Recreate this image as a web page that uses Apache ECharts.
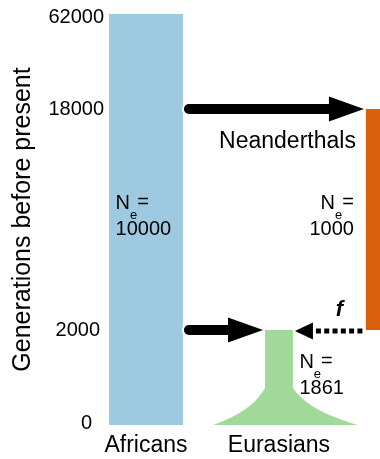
<!DOCTYPE html>
<html>
<head>
<meta charset="utf-8">
<script src="https://cdn.jsdelivr.net/npm/echarts@6/dist/echarts.min.js"></script>
<style>
  html, body { margin: 0; padding: 0; background: #fff; }
  #chart { width: 380px; height: 459px; }
</style>
</head>
<body>
<div id="chart"></div>
<script>
// ---- model: populations, effective sizes and time spans (generations before present)
const populations = ['Africans', 'Eurasians', 'Neanderthals'];
const popNe = [10000, 1861, 1000];
const popStart = [62000, 2000, 18000];
const popEnd = [0, 0, 2000];

// ---- population splits
const splitFrom = ['Africans', 'Africans'];
const splitTo = ['Neanderthals', 'Eurasians'];
const splitGen = [18000, 2000];

// ---- admixture pulse
const admixFrom = ['Neanderthals'];
const admixTo = ['Eurasians'];
const admixGen = [2000];
const admixLabel = ['f'];

// ---- axes
const genTicks = [0, 2000, 18000, 62000];
const bottomLabels = ['Africans', 'Eurasians'];
const yTitle = 'Generations before present';

// ---- layout (time axis is piecewise linear between ticks)
const tickSpan = [0, 95, 316, 411];
const laneX = { Africans: 0, Eurasians: 1, Neanderthals: 1.707 };
const laneHalf = { Africans: 0.278, Eurasians: 0.105, Neanderthals: 0.053 };
const popColor = { Africans: '#9ecae1', Eurasians: '#a1d99b', Neanderthals: '#d95f0e' };
const FONT = '"Liberation Sans", Arial, Helvetica, sans-serif';

function toAxis(g) {
  for (let i = 1; i < genTicks.length; i++) {
    if (g <= genTicks[i]) {
      const t = (g - genTicks[i - 1]) / (genTicks[i] - genTicks[i - 1]);
      return tickSpan[i - 1] + t * (tickSpan[i] - tickSpan[i - 1]);
    }
  }
  return tickSpan[tickSpan.length - 1];
}

const measureCtx = document.createElement('canvas').getContext('2d');
function textW(s, size, style) {
  measureCtx.font = (style || '') + ' ' + size + 'px ' + FONT;
  return measureCtx.measureText(s).width;
}

function txt(s, x, y, size, align, extra) {
  return {
    type: 'text', x: x, y: y,
    style: Object.assign({
      text: s, fill: '#000', fontSize: size, fontFamily: FONT,
      align: align || 'left', verticalAlign: 'middle'
    }, extra || {})
  };
}

// "N_e=" over the value, anchored at (x, y)
function neLabel(x, y, align, value) {
  const wN = textW('N', 20), wE = textW('e', 13), wEq = textW('=', 20);
  const wV = textW(String(value), 20);
  const w1 = wN + wE + wEq;
  const x1 = align === 'left' ? x : x - w1;
  const x2 = align === 'left' ? x : x - wV;
  return {
    type: 'group',
    children: [
      txt('N', x1, y - 16.5, 20),
      txt('e', x1 + wN, y - 4.5, 13),
      txt('=', x1 + wN + wE, y - 17, 20),
      txt(String(value), x2, y + 10, 20)
    ]
  };
}

const chart = echarts.init(document.getElementById('chart'), null, { renderer: 'canvas' });

const tickPos = genTicks.map(toAxis);
const tickRich = {
  t0: { fontSize: 20, fontFamily: FONT, color: '#000', padding: [0, 12, 4, 0] },
  t1: { fontSize: 20, fontFamily: FONT, color: '#000', padding: [0, 4, 0, 0] },
  t2: { fontSize: 20, fontFamily: FONT, color: '#000' },
  t3: { fontSize: 20, fontFamily: FONT, color: '#000', padding: [6, 0, 0, 0] }
};

// cubic curve helper for the flare outline
function cubic(p0, p1, p2, p3, t) {
  const u = 1 - t;
  return u * u * u * p0 + 3 * u * u * t * p1 + 3 * u * t * t * p2 + t * t * t * p3;
}

const option = {
  animation: false,
  backgroundColor: '#fff',
  grid: { left: 104, right: 0, top: 14, bottom: 34 },
  xAxis: {
    type: 'value', min: -0.316, max: 1.76,
    axisLine: { show: false }, axisTick: { show: false }, splitLine: { show: false },
    axisLabel: {
      customValues: [0, 1],
      margin: 9,
      fontSize: 23, fontFamily: FONT, color: '#000',
      formatter: v => bottomLabels[Math.round(v)]
    }
  },
  yAxis: {
    type: 'value', min: 0, max: tickSpan[tickSpan.length - 1],
    name: yTitle, nameLocation: 'middle', nameRotate: 90, nameGap: 68,
    nameTextStyle: { fontSize: 25, fontFamily: FONT, color: '#000' },
    axisLine: { show: false }, axisTick: { show: false }, splitLine: { show: false },
    axisLabel: {
      customValues: tickPos,
      margin: 0,
      formatter: v => {
        let k = 0, best = Infinity;
        tickPos.forEach((p, i) => { if (Math.abs(p - v) < best) { best = Math.abs(p - v); k = i; } });
        return '{t' + k + '|' + genTicks[k] + '}';
      },
      rich: tickRich
    }
  },
  series: [
    {
      // population columns
      type: 'custom', coordinateSystem: 'cartesian2d', z: 1,
      data: populations.map((p, i) => [laneX[p], toAxis(popEnd[i])]),
      renderItem: function (params, api) {
        const i = params.dataIndex;
        const name = populations[i];
        const cx = laneX[name], hw = laneHalf[name];
        const tl = api.coord([cx - hw, toAxis(popStart[i])]);
        const br = api.coord([cx + hw, toAxis(popEnd[i])]);
        const color = popColor[name];
        if (name !== 'Eurasians') {
          return {
            type: 'rect',
            shape: { x: tl[0], y: tl[1], width: br[0] - tl[0], height: br[1] - tl[1] },
            style: { fill: color }
          };
        }
        // narrow stem that flares out (exponential growth) towards the present
        const c = api.coord([cx, toAxis(popEnd[i])]);
        const stem = (br[0] - tl[0]) / 2;
        const flareH = 37, growL = 52, growR = 65;
        const yb = c[1];
        const left = [], right = [];
        const N = 28;
        for (let k = 0; k <= N; k++) {
          const t = k / N;
          const dy = cubic(0, 12, 25, flareH, t);
          const y = yb - flareH + dy;
          const fl = cubic(0, 7.2, 19.2, 53.5, t) / 53.5;
          left.push([c[0] - stem - fl * growL, y]);
          right.push([c[0] + stem + fl * growR, y]);
        }
        const pts = [[c[0] - stem, tl[1]]].concat(left, right.reverse(), [[c[0] + stem, tl[1]]]);
        return { type: 'polygon', shape: { points: pts }, style: { fill: color } };
      }
    },
    {
      // split arrows
      type: 'custom', coordinateSystem: 'cartesian2d', z: 3,
      data: splitGen.map((g, i) => [laneX[splitFrom[i]], toAxis(g)]),
      renderItem: function (params, api) {
        const i = params.dataIndex;
        const src = splitFrom[i], dst = splitTo[i];
        const y = toAxis(splitGen[i]);
        const a = api.coord([laneX[src] + laneHalf[src], y]);
        const b = api.coord([laneX[dst] - laneHalf[dst], y]);
        const x0 = a[0] + 6, tip = b[0] - 2, yy = a[1];
        const headL = 35, headW = 12.5;
        const base = tip - headL;
        return {
          type: 'group',
          children: [
            { type: 'line', shape: { x1: x0, y1: yy, x2: base + 2, y2: yy },
              style: { stroke: '#fff', lineWidth: 14, lineCap: 'round' } },
            { type: 'line', shape: { x1: x0, y1: yy, x2: base + 2, y2: yy },
              style: { stroke: '#000', lineWidth: 10, lineCap: 'round' } },
            { type: 'polygon', shape: { points: [[base, yy - headW], [tip, yy], [base, yy + headW]] },
              style: { fill: '#000' } }
          ]
        };
      }
    },
    {
      // admixture pulse (dotted arrow)
      type: 'custom', coordinateSystem: 'cartesian2d', z: 3,
      data: admixGen.map((g, i) => [laneX[admixFrom[i]], toAxis(g)]),
      renderItem: function (params, api) {
        const i = params.dataIndex;
        const src = admixFrom[i], dst = admixTo[i];
        const y = toAxis(admixGen[i]);
        const a = api.coord([laneX[src] - laneHalf[src], y]);
        const b = api.coord([laneX[dst] + laneHalf[dst], y]);
        const yy = a[1] + 1;
        const tip = b[0] + 2, headL = 18, headW = 8.5;
        const base = tip + headL;
        const d0 = base + 3, d1 = a[0] - 3;
        return {
          type: 'group',
          children: [
            { type: 'line', shape: { x1: d0, y1: yy, x2: d1, y2: yy },
              style: { stroke: '#000', lineWidth: 5, lineDash: [5, 3.3], lineCap: 'butt' } },
            { type: 'polygon', shape: { points: [[base, yy - headW], [tip, yy], [base, yy + headW]] },
              style: { fill: '#000' } },
            txt(admixLabel[i], (d0 + d1) / 2, yy - 21, 22, 'center', { fontStyle: 'italic', fontWeight: 'bold' })
          ]
        };
      }
    },
    {
      // population labels
      type: 'custom', coordinateSystem: 'cartesian2d', z: 4,
      data: populations.map((p, i) => [laneX[p], toAxis(popEnd[i])]),
      renderItem: function (params, api) {
        const i = params.dataIndex;
        const name = populations[i];
        const cx = laneX[name], hw = laneHalf[name];
        const top = api.coord([cx - hw, toAxis(popStart[i])]);
        const bot = api.coord([cx + hw, toAxis(popEnd[i])]);
        const mid = (top[1] + bot[1]) / 2;
        if (name === 'Africans') {
          return neLabel(top[0] + 6.5, mid, 'left', popNe[i]);
        }
        if (name === 'Eurasians') {
          return neLabel(bot[0] + 6.5, mid + 1, 'left', popNe[i]);
        }
        return {
          type: 'group',
          children: [
            neLabel(top[0] - 12, mid, 'right', popNe[i]),
            txt(name, top[0] - 10, top[1] + 33, 23, 'right')
          ]
        };
      }
    }
  ]
};

chart.setOption(option);
</script>
</body>
</html>
